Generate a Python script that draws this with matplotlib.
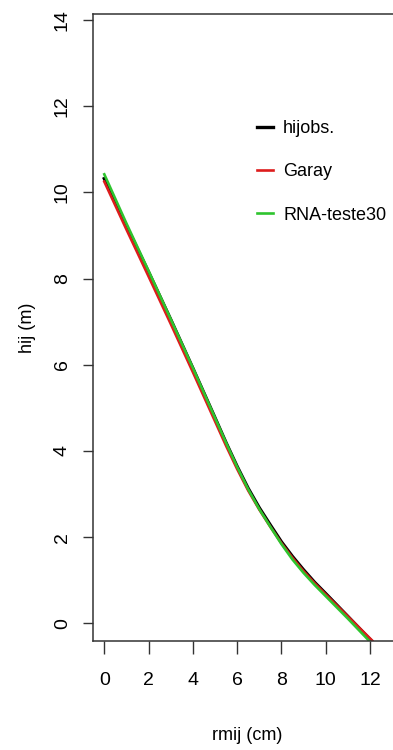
import matplotlib
matplotlib.use("Agg")
import matplotlib.pyplot as plt
from matplotlib import font_manager

# pick a narrow sans if we have one (R on Windows output looks condensed)
names = {f.name for f in font_manager.fontManager.ttflist}
fam = ["Liberation Sans Narrow"] if "Liberation Sans Narrow" in names else []
plt.rcParams['font.family'] = fam + ["Liberation Sans", "DejaVu Sans"]

# observed stem profile (rmij, hij)
obs_x = [0.0, 1.0, 2.0, 3.0, 4.0, 5.0, 5.5, 6.0, 6.5, 7.0, 7.5, 8.0, 8.5, 9.0, 9.5, 10.0, 11.0, 12.05]
obs_y = [10.32, 9.22, 8.15, 7.05, 5.92, 4.77, 4.19, 3.64, 3.13, 2.68, 2.28, 1.89, 1.55, 1.24, 0.95, 0.69, 0.16, -0.40]

# Garay model
garay_x = [0.0, 1.0, 2.0, 3.0, 4.0, 5.0, 5.5, 6.0, 6.5, 7.0, 7.5, 8.0, 8.5, 9.0, 9.5, 10.0, 11.0, 12.1]
garay_y = [10.25, 9.14, 8.05, 6.95, 5.83, 4.69, 4.12, 3.58, 3.08, 2.64, 2.24, 1.86, 1.52, 1.21, 0.93, 0.67, 0.16, -0.40]

# RNA-teste30
rna_x = [0.0, 1.0, 2.0, 3.0, 4.0, 5.0, 5.5, 6.0, 6.5, 7.0, 7.5, 8.0, 8.5, 9.0, 9.5, 10.0, 11.0, 11.95]
rna_y = [10.42, 9.28, 8.18, 7.06, 5.93, 4.77, 4.19, 3.63, 3.11, 2.65, 2.24, 1.84, 1.48, 1.17, 0.89, 0.63, 0.11, -0.40]

xticks = [0, 2, 4, 6, 8, 10, 12]
yticks = [0, 2, 4, 6, 8, 10, 12, 14]

fig = plt.figure(figsize=(3.93, 7.5), dpi=100)
ax = fig.add_axes([93 / 393, 1 - 641 / 750, 308 / 393, 627 / 750])

ax.plot(obs_x, obs_y, color="black", lw=2.4, label="hijobs.")
ax.plot(garay_x, garay_y, color="#dd1c1c", lw=1.9, label="Garay")
ax.plot(rna_x, rna_y, color="#2ec42e", lw=1.9, label="RNA-teste30")

ax.set_xlim(-0.51, 13.4)
ax.set_ylim(-0.41, 14.14)
ax.set_xticks(xticks)
ax.set_yticks(yticks)

for s in ax.spines.values():
    s.set_color("#333333")
    s.set_linewidth(1.1)
ax.spines["right"].set_visible(False)

ax.tick_params(axis="x", length=9, width=1, color="#333333", labelsize=14, pad=13)
ax.tick_params(axis="y", length=7, width=1, color="#333333", labelsize=14, pad=9,
               labelrotation=90)
for t in ax.get_yticklabels():
    t.set_va("center")

ax.set_xlabel("rmij (cm)", fontsize=13, labelpad=28)
ax.set_ylabel("hij (m)", fontsize=13, labelpad=13)

ax.legend(loc="center left", bbox_to_anchor=(257 / 393, 1 - 172 / 750),
          bbox_transform=fig.transFigure, frameon=False, fontsize=13,
          handlelength=0.9, handletextpad=0.55, labelspacing=1.45,
          borderpad=0, borderaxespad=0)

fig.savefig("out.png", dpi=100)
